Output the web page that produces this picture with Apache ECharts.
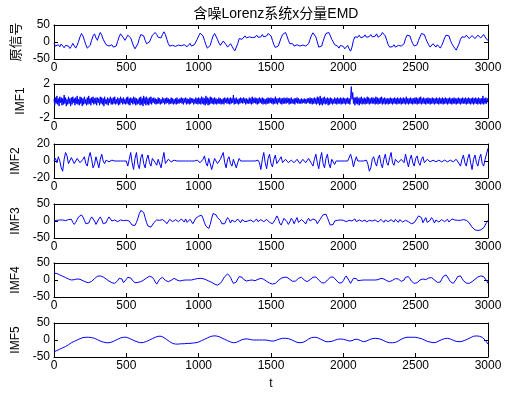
<!DOCTYPE html>
<html><head><meta charset="utf-8">
<script src="https://cdn.jsdelivr.net/npm/echarts@6/dist/echarts.min.js"></script>
<style>html,body{margin:0;padding:0;background:#fff}#c{width:529px;height:395px}</style>
</head><body><div id="c"></div>
<script>
// ---------------- data ----------------
const chartTitle = '含噪Lorenz系统x分量EMD';
const xName = 't';
const panelNames = ['原信号', 'IMF1', 'IMF2', 'IMF3', 'IMF4', 'IMF5'];
const xMin = 0, xMax = 3000, xInterval = 500;
const yMins = [-50, -2, -20, -50, -50, -50];
const yMaxs = [50, 2, 20, 50, 50, 50];
const yIntervals = [50, 2, 20, 50, 50, 50];
const sampleStep = 10;   // t spacing of values below (except IMF1)
const imf1Step = 5;      // t spacing of IMF1 values

const original = [
 -3,-12,-15,-8,-14,-6,-9,-17,-10,-5,
 -12,-19,-13,-4,-8,-18,-10,2,15,25,
 18,5,-8,-18,-22,-10,5,18,24,12,
 5,18,28,20,8,0,-8,-3,-12,-16,
 -8,-15,-20,-12,2,15,24,25,12,5,
 12,20,23,12,0,-12,-20,-18,-5,10,
 22,27,18,5,-5,-8,0,10,20,25,
 28,22,14,10,12,22,30,22,8,-5,
 -12,-16,-10,-6,-13,-17,-9,-5,-11,-16,
 -8,-6,-14,-10,-4,-12,-15,-8,-5,8,
 18,26,28,18,5,-8,-18,-22,-10,5,
 18,25,20,8,-3,-10,-5,3,-2,-8,
 -15,-10,-5,-12,-20,-26,-22,-5,10,15,
 8,12,18,12,8,15,20,13,9,14,
 20,14,9,15,22,15,10,18,25,28,
 18,5,-8,-16,-20,-12,0,12,22,27,
 28,18,5,-5,-10,-5,-12,-15,-8,-5,
 -12,-16,-9,-5,-12,-15,-5,8,20,27,
 28,15,0,-15,-20,-12,2,15,25,30,
 28,18,8,0,-8,-5,-12,-18,-10,-5,
 -13,-20,-15,-10,-20,-27,-15,5,15,10,
 14,20,13,9,15,21,14,10,16,22,
 15,10,17,24,14,10,20,28,30,18,
 5,-8,-15,-20,-14,-8,-15,-18,-10,-5,
 -12,-16,-5,10,20,25,18,5,-5,-12,
 -15,-8,5,15,25,30,22,10,0,-8,
 -15,-12,-5,-10,-15,-8,-12,-18,-10,0,
 12,20,25,18,5,-5,-12,-18,-24,-20,
 -5,8,15,10,14,20,15,10,14,19,
 15,10,14,20,17,12,16,22,15,8,
 5
];

const imf1 = [
 0.2,-0.5,0.4,-0.3,0.6,-0.4,0.3,-0.6,0.5,-0.2,0.4,-0.5,0.3,-0.4,0.7,-0.3,0.4,-0.6,0.2,-0.4,
 0.5,-0.3,0.3,-0.6,0.4,-0.4,0.5,-0.2,0.3,-0.5,0.4,-0.3,0.6,-0.4,0.2,-0.5,0.5,-0.3,0.4,-0.6,
 0.3,-0.4,0.5,-0.3,0.2,-0.5,0.4,-0.4,0.6,-0.3,0.3,-0.5,0.4,-0.2,0.5,-0.4,0.3,-0.3,0.4,-0.5,
 0.4,-0.2,0.3,-0.5,0.5,-0.3,0.4,-0.4,0.3,-0.6,0.5,-0.3,0.2,-0.4,0.4,-0.5,0.3,-0.2,0.5,-0.4,
 0.3,-0.4,0.4,-0.3,0.5,-0.4,0.2,-0.3,0.4,-0.5,0.3,-0.4,0.5,-0.2,0.3,-0.4,0.4,-0.3,0.2,-0.4,
 0.4,-0.3,0.5,-0.4,0.3,-0.5,0.4,-0.2,0.3,-0.4,0.5,-0.3,0.4,-0.5,0.3,-0.4,0.2,-0.3,0.4,-0.5,
 0.5,-0.4,0.3,-0.6,0.6,-0.3,0.4,-0.5,0.5,-0.4,0.3,-0.5,0.4,-0.3,0.5,-0.4,0.3,-0.2,0.4,-0.3,
 0.3,-0.4,0.2,-0.3,0.4,-0.3,0.3,-0.4,0.2,-0.3,0.4,-0.2,0.3,-0.4,0.3,-0.3,0.4,-0.2,0.3,-0.4,
 0.2,-0.3,0.4,-0.3,0.3,-0.4,0.2,-0.3,0.3,-0.4,0.4,-0.3,0.2,-0.3,0.3,-0.2,0.4,-0.3,0.3,-0.4,
 0.3,-0.2,0.4,-0.4,0.3,-0.3,0.2,-0.4,0.4,-0.3,0.3,-0.2,0.3,-0.4,0.2,-0.3,0.4,-0.3,0.3,-0.4,
 0.4,-0.3,0.3,-0.4,0.5,-0.3,0.4,-0.4,0.3,-0.5,0.6,-0.3,0.4,-0.5,0.3,-0.4,0.5,-0.3,0.4,-0.3,
 0.3,-0.4,0.4,-0.3,0.3,-0.4,0.2,-0.3,0.4,-0.3,0.3,-0.4,0.2,-0.3,0.3,-0.4,0.4,-0.2,0.3,-0.3,
 0.4,-0.3,0.3,-0.4,0.4,-0.3,0.3,-0.2,0.7,-0.4,0.3,-0.3,0.4,-0.3,0.2,-0.4,0.3,-0.3,0.4,-0.2,
 0.3,-0.3,0.4,-0.2,0.3,-0.4,0.3,-0.3,0.2,-0.3,0.4,-0.3,0.3,-0.4,0.5,-0.3,0.3,-0.2,0.4,-0.3,
 0.3,-0.4,0.3,-0.3,0.4,-0.2,0.3,-0.3,0.4,-0.4,0.3,-0.3,0.2,-0.4,0.3,-0.3,0.4,-0.3,0.3,-0.2,
 0.4,-0.3,0.3,-0.4,0.3,-0.3,0.5,-0.3,0.3,-0.4,0.3,-0.2,0.4,-0.3,0.3,-0.4,0.3,-0.3,0.4,-0.3,
 0.3,-0.3,0.4,-0.2,0.3,-0.4,0.3,-0.3,0.4,-0.3,0.2,-0.3,0.3,-0.4,0.3,-0.2,0.4,-0.3,0.3,-0.3,
 0.2,-0.3,0.3,-0.3,0.2,-0.2,0.3,-0.3,0.2,-0.3,0.3,-0.2,0.3,-0.3,0.4,-0.3,0.3,-0.4,0.3,-0.3,
 0.4,-0.3,0.3,-0.4,0.5,-0.3,0.4,-0.5,0.6,-0.4,0.3,-0.5,0.4,-0.3,0.5,-0.4,0.3,-0.3,0.4,-0.5,
 0.3,-0.4,0.4,-0.3,0.3,-0.4,0.2,-0.3,0.4,-0.3,0.3,-0.4,0.4,-0.3,0.3,-0.3,0.4,-0.4,0.3,-0.3,
 0.4,-0.3,0.3,-0.4,0.3,-0.3,0.4,-0.3,0.3,-0.4,0.3,1.7,0.2,1.0,-0.3,0.4,-0.5,0.4,-0.3,0.5,
 -0.4,0.3,-0.5,0.4,-0.3,0.5,-0.4,0.3,-0.3,0.4,-0.4,0.3,-0.3,0.5,-0.3,0.4,-0.4,0.3,-0.3,0.4,
 -0.3,0.4,-0.3,0.3,-0.4,0.5,-0.3,0.4,-0.4,0.3,-0.3,0.4,-0.3,0.5,-0.4,0.3,-0.3,0.4,-0.4,0.3,
 -0.3,0.3,-0.4,0.3,-0.3,0.4,-0.3,0.3,-0.4,0.3,-0.3,0.4,-0.3,0.3,-0.4,0.4,-0.3,0.3,-0.3,0.4,
 -0.4,0.3,-0.3,0.4,-0.3,0.3,-0.4,0.5,-0.3,0.3,-0.4,0.3,-0.3,0.4,-0.3,0.3,-0.4,0.3,-0.3,0.4,
 -0.3,0.4,-0.4,0.3,-0.3,0.4,-0.3,0.5,-0.4,0.3,-0.3,0.4,-0.3,0.3,-0.4,0.3,-0.3,0.4,-0.3,0.3,
 -0.4,0.3,-0.3,0.4,-0.3,0.3,-0.4,0.3,-0.3,0.4,-0.3,0.3,-0.4,0.4,-0.3,0.3,-0.3,0.4,-0.4,0.3,
 -0.3,0.4,-0.3,0.3,-0.4,0.3,-0.3,0.4,-0.3,0.3,-0.4,0.3,-0.3,0.4,-0.3,0.3,-0.4,0.3,-0.3,0.4,
 -0.3,0.3,-0.4,0.3,-0.3,0.4,-0.3,0.3,-0.3,0.4,-0.4,0.3,-0.3,0.4,-0.3,0.3,-0.4,0.3,-0.3,0.4,
 -0.4,0.3,-0.3,0.4,-0.3,0.3,-0.4,0.4,-0.3,0.3,-0.4,0.3,-0.3,0.6,-0.4,0.3,-0.3,0.4,-0.3,0.3,
 0
];

const imf2 = [
 0,3,-2,5,0,-8,-12,2,10,6,
 -3,-4,4,2,-3,-2,3,4,-2,-3,
 2,5,-3,-6,4,10,2,-8,-4,5,
 3,-8,2,8,0,-3,1,2,-1,-2,
 1,2,0,-2,0,1,0,-1,0,1,
 0,-6,2,10,-2,-10,3,10,-4,-9,
 4,8,-3,-8,2,7,-2,-6,3,5,
 -2,-5,2,4,-8,2,10,-3,-5,2,
 3,-1,-2,1,1,0,0,0,0,0,
 0,0,1,0,-1,0,2,0,-2,1,
 3,-2,-4,2,6,-2,-6,3,5,-10,
 -11,3,4,-3,-4,2,3,10,-2,-8,
 2,5,-3,-6,2,4,-8,-2,3,0,
 0,0,0,0,0,0,0,0,0,0,
 0,1,-2,-10,2,10,-2,-9,3,8,
 -3,-7,2,7,-3,-5,2,5,-2,-3,
 2,3,-2,-3,1,3,-2,-2,2,3,
 -3,-2,2,4,-2,-4,3,4,-3,-6,
 2,8,-2,-9,2,10,-3,-8,3,8,
 -3,-8,2,3,-4,0,0,0,0,0,
 0,0,0,0,0,8,2,-7,0,5,
 0,0,0,0,0,0,1,-4,-12,-8,
 2,5,-2,-6,3,7,-3,-8,2,8,
 -2,-5,4,10,-2,-5,2,3,-2,-3,
 2,3,-2,8,0,-7,2,7,-2,-6,
 3,6,-2,-5,2,5,-2,-3,2,3,
 -1,-2,1,2,-1,-2,1,2,-1,-1,
 1,2,-1,-2,1,3,-1,-2,2,3,
 -3,-6,2,7,-2,-6,3,8,-2,-10,
 2,7,-2,-6,3,8,-3,-6,2,4,
 15
];

const imf3 = [
 0,1,2,3,3,3,3,2,1,0,
 4,8,5,-4,-10,-4,4,12,17,18,
 12,2,-8,-12,-6,4,12,10,0,-10,
 -6,6,12,4,-8,-12,-5,5,12,8,
 0,-5,3,6,-2,-3,3,4,1,2,
 2,2,0,-5,-12,-15,-13,-4,8,22,
 31,33,25,10,-5,-15,-20,-18,-12,-5,
 0,3,3,2,3,4,3,-2,-8,-3,
 5,7,-2,-6,4,8,-2,-5,6,2,
 -3,6,-4,-6,5,3,-8,-5,8,12,
 14,18,17,8,-5,-15,-20,-22,-10,8,
 22,25,18,10,8,2,-8,-12,-8,2,
 10,4,-6,3,8,-3,-4,6,2,-5,
 4,5,-2,3,0,-4,3,4,-3,2,
 6,-2,-3,4,2,-2,3,5,0,-4,
 -6,-8,-4,5,15,8,-6,-12,-2,8,
 10,-2,-10,-3,8,2,-8,2,10,-4,
 -8,4,8,-3,-9,2,8,0,-5,6,
 10,2,-8,-3,5,12,18,22,20,10,
 -2,-12,-15,-10,0,3,2,0,3,-2,
 2,4,-2,3,2,-3,0,4,6,-2,
 0,3,2,-1,2,3,-3,-5,2,4,
 0,-4,3,6,-3,-2,5,2,-4,3,
 6,-2,-5,4,2,-3,5,3,-4,4,
 6,-3,-6,2,5,-2,-4,-8,-10,-5,
 0,8,15,18,10,-5,-2,10,-4,-8,
 2,10,4,-6,3,8,-3,-5,4,6,
 -2,3,5,-3,2,6,2,3,4,2,
 3,2,3,4,3,2,0,-5,-12,-18,
 -23,-26,-28,-28,-27,-26,-25,-20,-12,-5,
 2
];

const imf4 = [
 20,20,19,17,15,13,11,9,7,5,
 3,1,0,0,1,2,3,3,2,0,
 -2,-4,-6,-7,-8,-7,-4,0,4,8,
 11,12,12,11,9,6,3,0,-3,-6,
 -8,-10,-10,-8,-2,5,10,3,-8,-6,
 2,8,10,6,0,-5,-8,-8,-7,-6,
 -5,-3,0,3,6,9,11,12,8,2,
 -6,-12,-8,2,7,8,4,-1,-4,-5,
 -4,-1,3,5,3,0,-2,-3,-2,-1,
 0,0,0,0,0,0,1,2,3,4,
 5,5,5,4,3,1,-1,-3,-5,-7,
 -10,-12,-14,-15,-14,-10,-4,3,10,15,
 18,15,8,-2,-10,-12,-6,3,10,12,
 8,2,-2,-3,-2,-1,0,0,-1,-2,
 0,2,4,5,4,2,-1,-4,-7,-9,
 -11,-12,-12,-10,-6,-2,2,5,7,8,
 8,8,6,2,-2,-4,-5,-3,1,5,
 7,8,5,0,-4,-5,-3,1,5,8,
 10,9,5,0,-4,-8,-10,-9,-5,0,
 4,8,10,9,6,0,-5,-9,-10,-8,
 -2,6,12,8,-2,-10,-6,5,10,4,
 -2,-2,-1,0,0,0,0,0,0,0,
 0,0,0,0,1,3,5,5,3,0,
 -2,-4,-5,-4,-1,2,4,5,3,0,
 -4,-5,0,8,12,10,4,-3,-8,-10,
 -10,-8,-4,0,3,3,2,1,3,6,
 8,7,4,0,-4,-7,-8,-6,2,10,
 14,15,10,2,-5,-8,-10,-6,2,10,
 15,12,5,-2,-6,-9,-10,-10,-8,-5,
 -2,2,6,9,11,12,12,10,5,-2,
 -10
];

const imf5 = [
 -35,-33,-31,-29,-27,-25,-23,-21,-19,-17,
 -14,-11,-8,-6,-4,-2,0,2,4,6,
 7,8,8,8,8,8,7,6,5,3,
 1,-1,-3,-5,-6,-7,-8,-8,-8,-7,
 -6,-4,-2,0,2,4,6,7,8,8,
 8,7,5,3,1,-1,-3,-5,-6,-7,
 -8,-8,-7,-6,-4,-2,0,2,4,6,
 8,10,11,12,11,9,7,4,1,-2,
 -5,-8,-10,-11,-12,-12,-12,-12,-11,-11,
 -11,-10,-10,-10,-10,-9,-9,-8,-8,-7,
 -6,-4,-2,0,2,4,6,8,10,11,
 12,12,12,11,10,8,6,4,2,0,
 -2,-4,-6,-7,-8,-8,-7,-5,-3,-1,
 1,2,3,3,3,2,1,1,0,0,
 0,0,0,0,0,0,0,0,-1,-2,
 -3,-3,-3,-2,0,2,3,4,5,5,
 5,5,4,3,1,-1,-3,-5,-7,-8,
 -8,-8,-7,-5,-3,0,3,5,7,8,
 8,8,7,5,3,1,-1,-3,-5,-5,
 -5,-5,-4,-3,-1,1,2,3,3,3,
 2,1,0,-1,-3,-3,-2,0,2,3,
 2,0,-2,-4,-5,-5,-3,-1,1,3,
 4,5,5,5,4,3,2,0,-2,-4,
 -6,-7,-8,-8,-8,-8,-7,-5,-3,-1,
 2,4,6,7,8,8,8,8,8,8,
 8,7,6,5,4,2,0,-2,-4,-5,
 -6,-7,-8,-8,-7,-5,-3,-1,1,3,
 4,5,5,4,3,1,-1,-3,-4,-5,
 -5,-5,-4,-3,-1,1,3,5,7,9,
 11,12,12,12,11,10,8,5,0,-6,
 -12
];

const seriesValues = [original, imf1, imf2, imf3, imf4, imf5];
const seriesSteps = [sampleStep, imf1Step, sampleStep, sampleStep, sampleStep, sampleStep];

// ---------------- layout / style ----------------
const gridTops = [25, 84, 144, 204, 263, 323];
const gridH = 34, gridLeft = 54, gridRight = 41;
const FONT = "'Liberation Sans', Arial, 'Noto Sans CJK SC', sans-serif";
const CJK = "'Noto Sans CJK SC', sans-serif";
const black = '#000';

const grids = [], xAxes = [], yAxes = [], series = [];
for (let k = 0; k < 6; k++) {
  grids.push({ left: gridLeft, right: gridRight, top: gridTops[k], height: gridH });
  const baseX = {
    type: 'value', gridIndex: k, min: xMin, max: xMax, interval: xInterval,
    splitLine: { show: false },
    axisLine: { show: true, onZero: false, lineStyle: { color: black, width: 1 } },
    axisTick: { show: true, inside: true, length: 4, lineStyle: { color: black } }
  };
  xAxes.push(Object.assign({}, baseX, {
    position: 'bottom',
    axisLabel: { show: true, color: black, fontFamily: FONT, fontSize: 12, margin: 3,
      showMaxLabel: true, showMinLabel: true, formatter: v => String(v) },
    name: k === 5 ? xName : '', nameLocation: 'middle', nameGap: 21,
    nameTextStyle: { color: black, fontFamily: FONT, fontSize: 12 }
  }));
  xAxes.push(Object.assign({}, baseX, { position: 'top', axisLabel: { show: false } }));
  const baseY = {
    type: 'value', gridIndex: k, min: yMins[k], max: yMaxs[k], interval: yIntervals[k],
    splitLine: { show: false },
    axisLine: { show: true, onZero: false, lineStyle: { color: black, width: 1 } },
    axisTick: { show: true, inside: true, length: 4, lineStyle: { color: black } }
  };
  yAxes.push(Object.assign({}, baseY, {
    position: 'left',
    axisLabel: { show: true, color: black, fontFamily: FONT, fontSize: 12, margin: 4,
      showMaxLabel: true, showMinLabel: true, formatter: v => String(v) },
    name: panelNames[k], nameLocation: 'middle', nameRotate: 90, nameGap: 27,
    nameTextStyle: { color: black, fontFamily: k === 0 ? CJK : FONT, fontSize: k === 0 ? 13 : 12 }
  }));
  yAxes.push(Object.assign({}, baseY, { position: 'right', axisLabel: { show: false } }));
  const step = seriesSteps[k];
  series.push({
    type: 'line', xAxisIndex: 2 * k, yAxisIndex: 2 * k,
    data: seriesValues[k].map((v, i) => [i * step, v]),
    showSymbol: false, symbol: 'none',
    lineStyle: { color: '#0000ff', width: 1 }, animation: false, silent: true
  });
}

const chart = echarts.init(document.getElementById('c'), null, { renderer: 'canvas' });
chart.setOption({
  backgroundColor: '#fff',
  animation: false,
  title: {
    text: chartTitle, left: 271, top: 2, textAlign: 'center',
    textStyle: { color: black, fontFamily: "'Liberation Sans', 'Noto Sans CJK SC', sans-serif", fontSize: 14, fontWeight: 'normal' }
  },
  grid: grids, xAxis: xAxes, yAxis: yAxes, series: series
});
</script>
</body></html>
